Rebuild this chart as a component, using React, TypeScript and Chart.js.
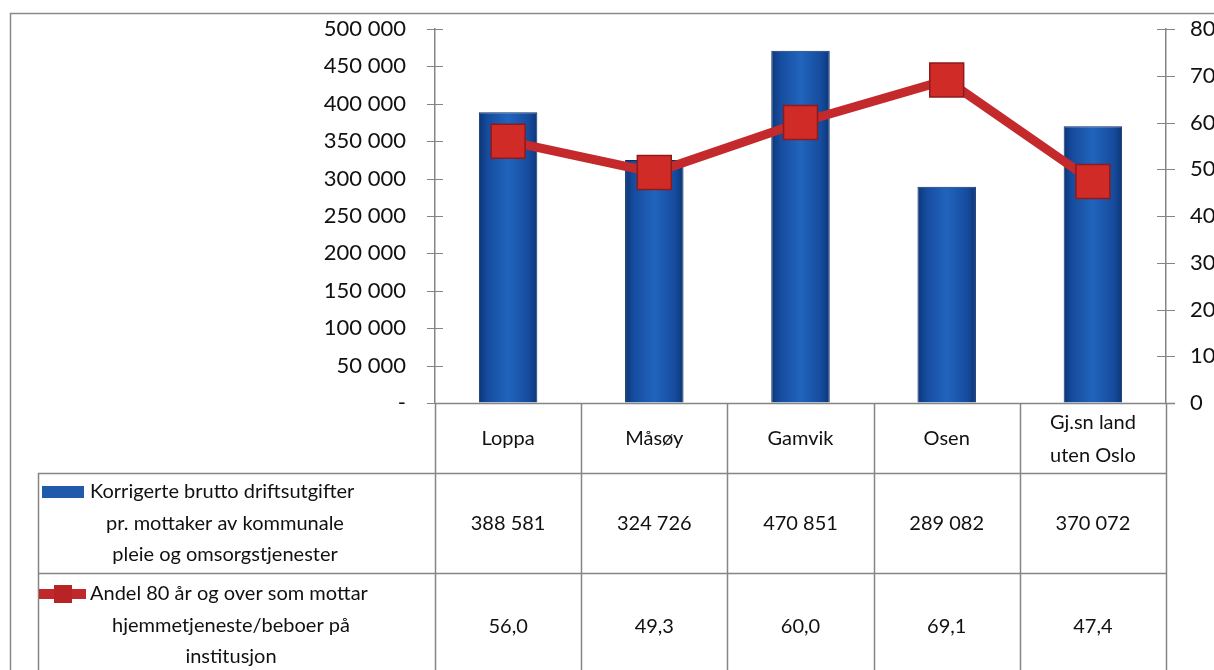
import React, { useEffect, useRef } from 'react';
import { Chart, registerables } from 'chart.js';

Chart.register(...registerables);

const categories = ['Loppa', 'Måsøy', 'Gamvik', 'Osen', 'Gj.sn land uten Oslo'];
const categoryLines = [['Loppa'], ['Måsøy'], ['Gamvik'], ['Osen'], ['Gj.sn land', 'uten Oslo']];
const costValues = [388581, 324726, 470851, 289082, 370072];
const shareValues = [56.0, 49.3, 60.0, 69.1, 47.4];
const costSeriesLines = ['Korrigerte brutto driftsutgifter', 'pr. mottaker av kommunale', 'pleie og omsorgstjenester'];
const shareSeriesLines = ['Andel 80 år og over som mottar', 'hjemmetjeneste/beboer på', 'institusjon'];
const leftTicks = [0, 50000, 100000, 150000, 200000, 250000, 300000, 350000, 400000, 450000, 500000];
const rightTicks = [0, 10, 20, 30, 40, 50, 60, 70, 80];

const FONT = 'Lato, "Open Sans", sans-serif';
const GRID = '#858585';

function fmtThousands(v: number): string {
  if (v === 0) return '-';
  return String(Math.round(v)).replace(/\B(?=(\d{3})+(?!\d))/g, ' ');
}
function fmtDecimal(v: number): string {
  return v.toFixed(1).replace('.', ',');
}

const BAR_FRAC = 0.4;

const tablePlugin = {
  id: 'dataTable',
  afterDraw(chart: any) {
    const ctx = chart.ctx as CanvasRenderingContext2D;
    const area = chart.chartArea;
    const xs = chart.scales.x;
    const n = categories.length;
    const colW = (area.right - area.left) / n;
    const bottomAxis = area.bottom;
    const headerBottom = bottomAxis + 70;
    const row1Bottom = headerBottom + 100;
    const tableBottom = 700;
    const legendLeft = 38;

    ctx.save();
    // outer frame
    ctx.strokeStyle = '#8a8a8a';
    ctx.lineWidth = 1.5;
    ctx.beginPath();
    ctx.moveTo(10.5, 720);
    ctx.lineTo(10.5, 13.5);
    ctx.lineTo(1214, 13.5);
    ctx.stroke();

    // axis tick crosses
    ctx.strokeStyle = GRID;
    ctx.lineWidth = 1.2;
    const ys = chart.scales.y;
    const y1 = chart.scales.y1;
    ctx.beginPath();
    leftTicks.forEach((t) => {
      const py = Math.round(ys.getPixelForValue(t)) + 0.5;
      ctx.moveTo(area.left - 8, py);
      ctx.lineTo(area.left + 8, py);
    });
    rightTicks.forEach((t) => {
      const py = Math.round(y1.getPixelForValue(t)) + 0.5;
      ctx.moveTo(area.right - 9, py);
      ctx.lineTo(area.right + 9, py);
    });
    ctx.stroke();

    // table grid
    ctx.strokeStyle = GRID;
    ctx.lineWidth = 1.5;
    ctx.beginPath();
    for (let i = 0; i <= n; i++) {
      const px = Math.round(area.left + i * colW) + 0.5;
      ctx.moveTo(px, bottomAxis);
      ctx.lineTo(px, tableBottom);
    }
    ctx.moveTo(area.left, bottomAxis + 0.5);
    ctx.lineTo(area.right + 9, bottomAxis + 0.5);
    ctx.moveTo(legendLeft, headerBottom + 0.5);
    ctx.lineTo(area.right, headerBottom + 0.5);
    ctx.moveTo(legendLeft, row1Bottom + 0.5);
    ctx.lineTo(area.right, row1Bottom + 0.5);
    ctx.moveTo(legendLeft + 0.5, headerBottom);
    ctx.lineTo(legendLeft + 0.5, tableBottom);
    ctx.stroke();

    // texts
    ctx.fillStyle = '#111';
    ctx.font = `20px ${FONT}`;
    ctx.textAlign = 'center';
    ctx.textBaseline = 'middle';
    categoryLines.forEach((lines, i) => {
      const cx = xs.getPixelForValue(i);
      const cy = (bottomAxis + headerBottom) / 2 + 1;
      const lh = 33;
      lines.forEach((ln, j) => {
        ctx.fillText(ln, cx, cy + (j - (lines.length - 1) / 2) * lh);
      });
      ctx.fillText(fmtThousands(costValues[i]), cx, (headerBottom + row1Bottom) / 2 + 1);
      ctx.fillText(fmtDecimal(shareValues[i]), cx, row1Bottom + 54);
    });

    // legend column
    const lh2 = 31.5;
    const textX = 90;
    // row 1
    let y0 = headerBottom + 19;
    ctx.fillStyle = '#1F5BAA';
    ctx.fillRect(42, y0 - 6, 42, 12);
    ctx.fillStyle = '#111';
    ctx.textAlign = 'left';
    ctx.fillText(costSeriesLines[0], textX, y0);
    ctx.textAlign = 'center';
    for (let j = 1; j < costSeriesLines.length; j++) ctx.fillText(costSeriesLines[j], 225, y0 + j * lh2);
    // row 2
    y0 = row1Bottom + 21;
    ctx.strokeStyle = '#C0282B';
    ctx.lineWidth = 10;
    ctx.beginPath();
    ctx.moveTo(39, y0);
    ctx.lineTo(86, y0);
    ctx.stroke();
    ctx.fillStyle = '#B82426';
    ctx.fillRect(54, y0 - 9, 18, 18);
    ctx.fillStyle = '#111';
    ctx.textAlign = 'left';
    ctx.fillText(shareSeriesLines[0], textX, y0);
    ctx.textAlign = 'center';
    for (let j = 1; j < shareSeriesLines.length; j++) ctx.fillText(shareSeriesLines[j], 231, y0 + j * lh2);
    ctx.restore();
  },
};

export default function App() {
  const ref = useRef<HTMLCanvasElement | null>(null);
  useEffect(() => {
    if (!ref.current) return;
    const barColor = (c: any) => {
      const chart = c.chart;
      const area = chart.chartArea;
      const xs = chart.scales.x;
      if (!area || !xs || c.dataIndex === undefined) return '#1C5BB3';
      const colW = (area.right - area.left) / categories.length;
      const cx = xs.getPixelForValue(c.dataIndex);
      const w = colW * BAR_FRAC;
      const g = chart.ctx.createLinearGradient(cx - w / 2, 0, cx + w / 2, 0);
      g.addColorStop(0, '#0C3677');
      g.addColorStop(0.15, '#164C9E');
      g.addColorStop(0.5, '#2164BD');
      g.addColorStop(0.85, '#164C9E');
      g.addColorStop(1, '#0C3677');
      return g;
    };
    const chart = new Chart(ref.current, {
      type: 'bar',
      data: {
        labels: categories,
        datasets: [
          {
            type: 'line',
            label: shareSeriesLines.join(' '),
            data: shareValues,
            yAxisID: 'y1',
            borderColor: '#C4292C',
            borderWidth: 9,
            tension: 0,
            pointStyle: 'rect',
            pointRadius: 24,
            pointHoverRadius: 24,
            pointBackgroundColor: '#D02B27',
            pointBorderColor: '#8E1A1A',
            pointBorderWidth: 1.5,
            order: 0,
          } as any,
          {
            type: 'bar',
            label: costSeriesLines.join(' '),
            data: costValues,
            yAxisID: 'y',
            backgroundColor: barColor,
            borderColor: '#0A2D66',
            borderWidth: 1,
            categoryPercentage: 1,
            barPercentage: BAR_FRAC,
            order: 1,
          },
        ],
      },
      options: {
        responsive: false,
        animation: false,
        layout: { padding: { top: 29, bottom: 267, left: 0, right: 0 } },
        plugins: { legend: { display: false }, tooltip: { enabled: false } },
        scales: {
          x: { type: 'category', display: false, offset: true },
          y: {
            position: 'left',
            min: 0,
            max: 500000,
            afterBuildTicks: (s: any) => { s.ticks = leftTicks.map((v) => ({ value: v })); },
            afterFit: (s: any) => { s.width = 435; },
            grid: { drawOnChartArea: false, drawTicks: true, tickLength: 27, tickColor: 'rgba(0,0,0,0)' },
            border: { display: true, color: GRID, width: 1.5 },
            ticks: {
              color: '#111',
              font: { family: FONT, size: 22 },
              padding: 2,
              callback: (v: any) => fmtThousands(Number(v)),
            },
          },
          y1: {
            position: 'right',
            min: 0,
            max: 80,
            afterBuildTicks: (s: any) => { s.ticks = rightTicks.map((v) => ({ value: v })); },
            afterFit: (s: any) => { s.width = 48; },
            grid: { drawOnChartArea: false, drawTicks: true, tickLength: 22, tickColor: 'rgba(0,0,0,0)' },
            border: { display: true, color: GRID, width: 1.5 },
            ticks: {
              color: '#111',
              font: { family: FONT, size: 22 },
              padding: 2,
              callback: (v: any) => String(v),
            },
          },
        },
      },
      plugins: [tablePlugin],
    });
    return () => chart.destroy();
  }, []);
  return (
    <div style={{ position: 'absolute', left: 0, top: 0, width: 1214, height: 670, background: '#fff' }}>
      <canvas ref={ref} width={1214} height={670} />
    </div>
  );
}
